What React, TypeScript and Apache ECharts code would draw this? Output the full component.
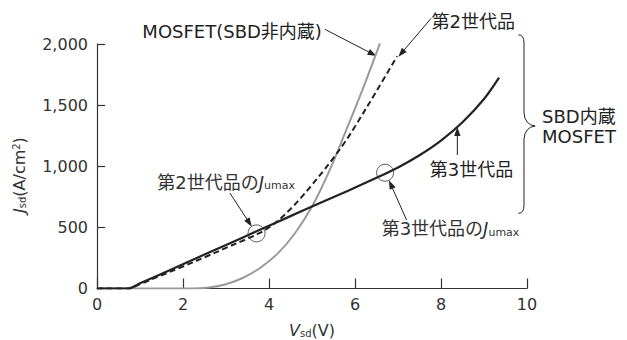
import React, { useEffect, useRef } from "react";
import * as echarts from "echarts";

// Axis ranges and ticks
const xMin = 0;
const xMax = 10;
const xStep = 2;
const yMin = 0;
const yMax = 2000;
const yStep = 500;

// MOSFET without built-in SBD (grey)
const mosfetV = [0, 2.2, 2.6, 3.0, 3.4, 3.8, 4.2, 4.6, 5.0, 5.4, 5.8, 6.2, 6.58];
const mosfetJ = [0, 0, 8, 35, 88, 170, 285, 450, 670, 960, 1300, 1650, 2005];

// 2nd generation SBD-embedded MOSFET (dashed)
const gen2V = [0, 0.73, 1.0, 1.5, 2.0, 2.5, 3.0, 3.5, 3.75, 4.0, 4.25, 4.5, 4.75, 5.0, 5.25, 5.5, 5.75, 6.0, 6.5, 6.98];
const gen2J = [0, 0, 36, 108, 180, 255, 332, 408, 448, 500, 568, 650, 745, 848, 955, 1068, 1190, 1325, 1615, 1900];

// 3rd generation SBD-embedded MOSFET (solid)
const gen3V = [0, 0.73, 1.0, 1.7, 2.5, 3.0, 3.71, 4.5, 5.0, 5.88, 6.5, 7.0, 7.5, 8.0, 8.5, 9.0, 9.35];
const gen3J = [0, 0, 42, 151, 278, 356, 468, 592, 670, 806, 905, 990, 1090, 1210, 1360, 1550, 1725];

// J_umax operating points (open circles)
const jumaxV = [3.71, 6.7];
const jumaxJ = [451, 947];

const FONT = '"DejaVu Sans", "Noto Sans CJK JP", sans-serif';
const INK = "#222";

const pairs = (xs: number[], ys: number[]) => xs.map((x, i) => [x, ys[i]]);

const subRich = {
  n: { fontSize: 18, fontFamily: FONT },
  j: { fontSize: 18, fontFamily: FONT, fontStyle: "italic" },
  s: { fontSize: 11, fontFamily: FONT, verticalAlign: "bottom" },
};

function arrow(a: number[], b: number[]) {
  const dx = b[0] - a[0];
  const dy = b[1] - a[1];
  const len = Math.hypot(dx, dy);
  const ux = dx / len;
  const uy = dy / len;
  const head = 9;
  const half = 3.2;
  const bx = b[0] - ux * head;
  const by = b[1] - uy * head;
  return [
    {
      type: "line",
      silent: true,
      shape: { x1: a[0], y1: a[1], x2: bx + ux, y2: by + uy },
      style: { stroke: INK, lineWidth: 1 },
    },
    {
      type: "polygon",
      silent: true,
      shape: {
        points: [
          [b[0], b[1]],
          [bx - uy * half, by + ux * half],
          [bx + uy * half, by - ux * half],
        ],
      },
      style: { fill: INK },
    },
  ];
}

export default function App() {
  const ref = useRef<HTMLDivElement>(null);

  useEffect(() => {
    const chart = echarts.init(ref.current!, null, { renderer: "svg" });
    chart.setOption({
      animation: false,
      grid: { left: 97, right: 100, top: 44, bottom: 51.5 },
      xAxis: {
        type: "value",
        min: xMin,
        max: xMax,
        interval: xStep,
        axisLine: { lineStyle: { color: "#333", width: 1.2 } },
        axisTick: { inside: true, length: 10, lineStyle: { color: "#333", width: 1.2 } },
        axisLabel: { margin: 8, fontSize: 16, color: "#333", fontFamily: FONT },
        splitLine: { show: false },
      },
      yAxis: {
        type: "value",
        min: yMin,
        max: yMax,
        interval: yStep,
        axisLine: { show: true, lineStyle: { color: "#333", width: 1.2 } },
        axisTick: { show: true, inside: true, length: 8, lineStyle: { color: "#333", width: 1.2 } },
        axisLabel: {
          margin: 9,
          fontSize: 16,
          color: "#333",
          fontFamily: FONT,
          formatter: (v: number) => v.toLocaleString("en-US"),
        },
        splitLine: { show: false },
      },
      series: [
        {
          name: "MOSFET(SBD非内蔵)",
          type: "line",
          data: pairs(mosfetV, mosfetJ),
          showSymbol: false,
          smooth: 0.4,
          lineStyle: { color: "#9a9a9a", width: 2 },
          z: 2,
        },
        {
          name: "第2世代品",
          type: "line",
          data: pairs(gen2V, gen2J),
          showSymbol: false,
          smooth: 0.35,
          lineStyle: { color: INK, width: 2, type: [6, 3.5] },
          z: 3,
        },
        {
          name: "第3世代品",
          type: "line",
          data: pairs(gen3V, gen3J),
          showSymbol: false,
          smooth: 0.3,
          lineStyle: { color: INK, width: 2.2 },
          z: 4,
        },
        {
          name: "Jumax",
          type: "scatter",
          data: pairs(jumaxV, jumaxJ),
          symbol: "circle",
          symbolSize: 17,
          itemStyle: { color: "rgba(0,0,0,0)", borderColor: "#333", borderWidth: 1 },
          z: 5,
        },
      ],
    });

    const p = (x: number, y: number) => chart.convertToPixel({ gridIndex: 0 }, [x, y]) as number[];

    const text = (pos: number[], content: string, align: string, extra: any = {}) => ({
      type: "text",
      silent: true,
      x: pos[0],
      y: pos[1],
      style: {
        text: content,
        fill: INK,
        fontSize: 18,
        fontFamily: FONT,
        align,
        verticalAlign: "middle",
        rich: subRich,
        ...extra,
      },
    });

    // curly brace grouping the two SBD-embedded generations
    const bTop = p(9.8, 2075);
    const bBot = p(9.8, 615);
    const bTip = p(10.19, 1329);
    const stem = p(9.93, 0)[0];
    const brace = [
      { x1: bTop[0], y1: bTop[1], cpx1: stem, cpy1: bTop[1], x2: stem, y2: bTop[1] + 8 },
      { x1: stem, y1: bTop[1] + 8, x2: stem, y2: bTip[1] - 13 },
      { x1: stem, y1: bTip[1] - 13, cpx1: stem + 1, cpy1: bTip[1] - 1, x2: bTip[0], y2: bTip[1] },
      { x1: bTip[0], y1: bTip[1], cpx1: stem + 1, cpy1: bTip[1] + 1, x2: stem, y2: bTip[1] + 13 },
      { x1: stem, y1: bTip[1] + 13, x2: stem, y2: bBot[1] - 8 },
      { x1: stem, y1: bBot[1] - 8, cpx1: stem, cpy1: bBot[1], x2: bBot[0], y2: bBot[1] },
    ].map((s) =>
      s.cpx1 === undefined
        ? { type: "line", silent: true, shape: s, style: { stroke: INK, lineWidth: 1 } }
        : { type: "bezierCurve", silent: true, shape: s, style: { stroke: INK, lineWidth: 1, fill: "none" } }
    );

    const origin = p(0, 0);
    const graphic: any[] = [
      text(p(5.23, 2106), "MOSFET(SBD非内蔵)", "right"),
      ...arrow(p(5.3, 2120), p(6.5, 1902)),
      text(p(7.78, 2184), "第2世代品", "left"),
      ...arrow(p(7.77, 2210), p(7.01, 1896)),
      text(p(7.74, 973), "第3世代品", "left"),
      ...arrow(p(8.38, 1092), p(8.38, 1322)),
      text(p(6.62, 487), "{n|第3世代品の}{j|J}{s|umax}", "left", { fill: "#333" }),
      ...arrow(p(7.2, 560), p(6.79, 885)),
      text(p(1.4, 871), "{n|第2世代品の}{j|J}{s|umax}", "left", { fill: "#333" }),
      ...arrow(p(3.09, 781), p(3.6, 506)),
      text(p(10.35, 1403), "SBD内蔵", "left"),
      text(p(10.35, 1247), "MOSFET", "left"),
      ...brace,
      // axis titles
      {
        type: "text",
        silent: true,
        x: p(5, 0)[0],
        y: origin[1] + 42,
        style: {
          text: "{j|V}{s|sd}{n|(V)}",
          fill: "#333",
          align: "center",
          verticalAlign: "middle",
          rich: {
            n: { fontSize: 16, fontFamily: FONT },
            j: { fontSize: 16, fontFamily: FONT, fontStyle: "italic" },
            s: { fontSize: 10, fontFamily: FONT, verticalAlign: "bottom" },
          },
        },
      },
      {
        type: "text",
        silent: true,
        x: origin[0] - 78,
        y: p(0, 928)[1],
        rotation: Math.PI / 2,
        style: {
          text: "{j|J}{s|sd}{n|(A/cm}{p|2}{n|)}",
          fill: "#333",
          align: "center",
          verticalAlign: "middle",
          rich: {
            n: { fontSize: 16, fontFamily: FONT },
            j: { fontSize: 16, fontFamily: FONT, fontStyle: "italic" },
            s: { fontSize: 10, fontFamily: FONT, verticalAlign: "bottom" },
            p: { fontSize: 10, fontFamily: FONT, verticalAlign: "top" },
          },
        },
      },
    ];
    chart.setOption({ graphic });

    return () => chart.dispose();
  }, []);

  return (
    <div
      ref={ref}
      style={{ position: "fixed", left: 0, top: 0, width: 627, height: 340, background: "#fff" }}
    />
  );
}
